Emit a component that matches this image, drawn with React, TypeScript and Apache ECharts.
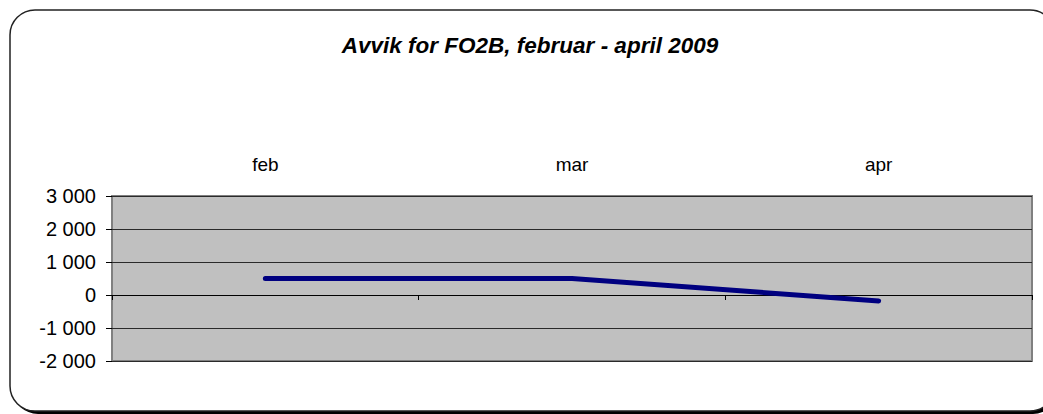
import React, { useEffect, useRef } from "react";
import * as echarts from "echarts";

const titleText = "Avvik for FO2B, februar - april 2009";
const categories = ["feb", "mar", "apr"];
const avvik = [500, 500, -180];
const yMin = -2000;
const yMax = 3000;
const yInterval = 1000;

const fmt = (v: number) => {
  const s = Math.abs(v).toString().replace(/\B(?=(\d{3})+(?!\d))/g, " ");
  return (v < 0 ? "-" : "") + s;
};

const FONT = "Liberation Sans, Arial, sans-serif";

export default function App() {
  const ref = useRef<HTMLDivElement>(null);
  useEffect(() => {
    document.body.style.margin = "0";
    const chart = echarts.init(ref.current!, null, { renderer: "svg" });
    chart.setOption({
      animation: false,
      textStyle: { fontFamily: FONT },
      graphic: [
        {
          type: "rect",
          shape: { x: 13, y: 13, width: 1045, height: 401, r: 25 },
          style: { fill: "#000" },
          z: -10,
        },
        {
          type: "rect",
          shape: { x: 10, y: 10, width: 1045, height: 401, r: 25 },
          style: { fill: "#fff", stroke: "#222", lineWidth: 1.5 },
          z: -9,
        },
        {
          type: "text",
          x: 530,
          y: 45,
          style: {
            text: titleText,
            align: "center",
            verticalAlign: "middle",
            fill: "#000",
            font: `italic bold 22.5px ${FONT}`,
          },
          z: 10,
        },
      ],
      grid: {
        left: 112,
        top: 196,
        right: 11,
        bottom: 53,
        show: true,
        backgroundColor: "#C0C0C0",
        borderColor: "#808080",
        borderWidth: 2,
        containLabel: false,
      },
      xAxis: [
        {
          type: "category",
          data: categories,
          position: "top",
          boundaryGap: true,
          axisLine: { show: false, onZero: false },
          axisTick: { show: false },
          axisLabel: { color: "#000", fontSize: 19, margin: 22 },
          splitLine: { show: false },
        },
        {
          type: "category",
          data: categories,
          position: "bottom",
          boundaryGap: true,
          axisLine: { show: true, onZero: true, lineStyle: { color: "#000", width: 1 } },
          axisTick: { show: true, length: 5, lineStyle: { color: "#000" } },
          axisLabel: { show: false },
          splitLine: { show: false },
        },
      ],
      yAxis: {
        type: "value",
        min: yMin,
        max: yMax,
        interval: yInterval,
        axisLine: { show: false },
        axisTick: { show: true, length: 6, lineStyle: { color: "#000" } },
        axisLabel: { color: "#000", fontSize: 20, margin: 16, formatter: (v: number) => fmt(v) },
        splitLine: { show: true, lineStyle: { color: "#2a2a2a", width: 1 } },
      },
      series: [
        {
          type: "line",
          data: avvik,
          xAxisIndex: 0,
          showSymbol: false,
          symbol: "none",
          lineStyle: { color: "#000080", width: 5, cap: "round", join: "round" },
        },
      ],
    });
    return () => chart.dispose();
  }, []);
  return <div ref={ref} style={{ width: 1043, height: 414 }} />;
}
